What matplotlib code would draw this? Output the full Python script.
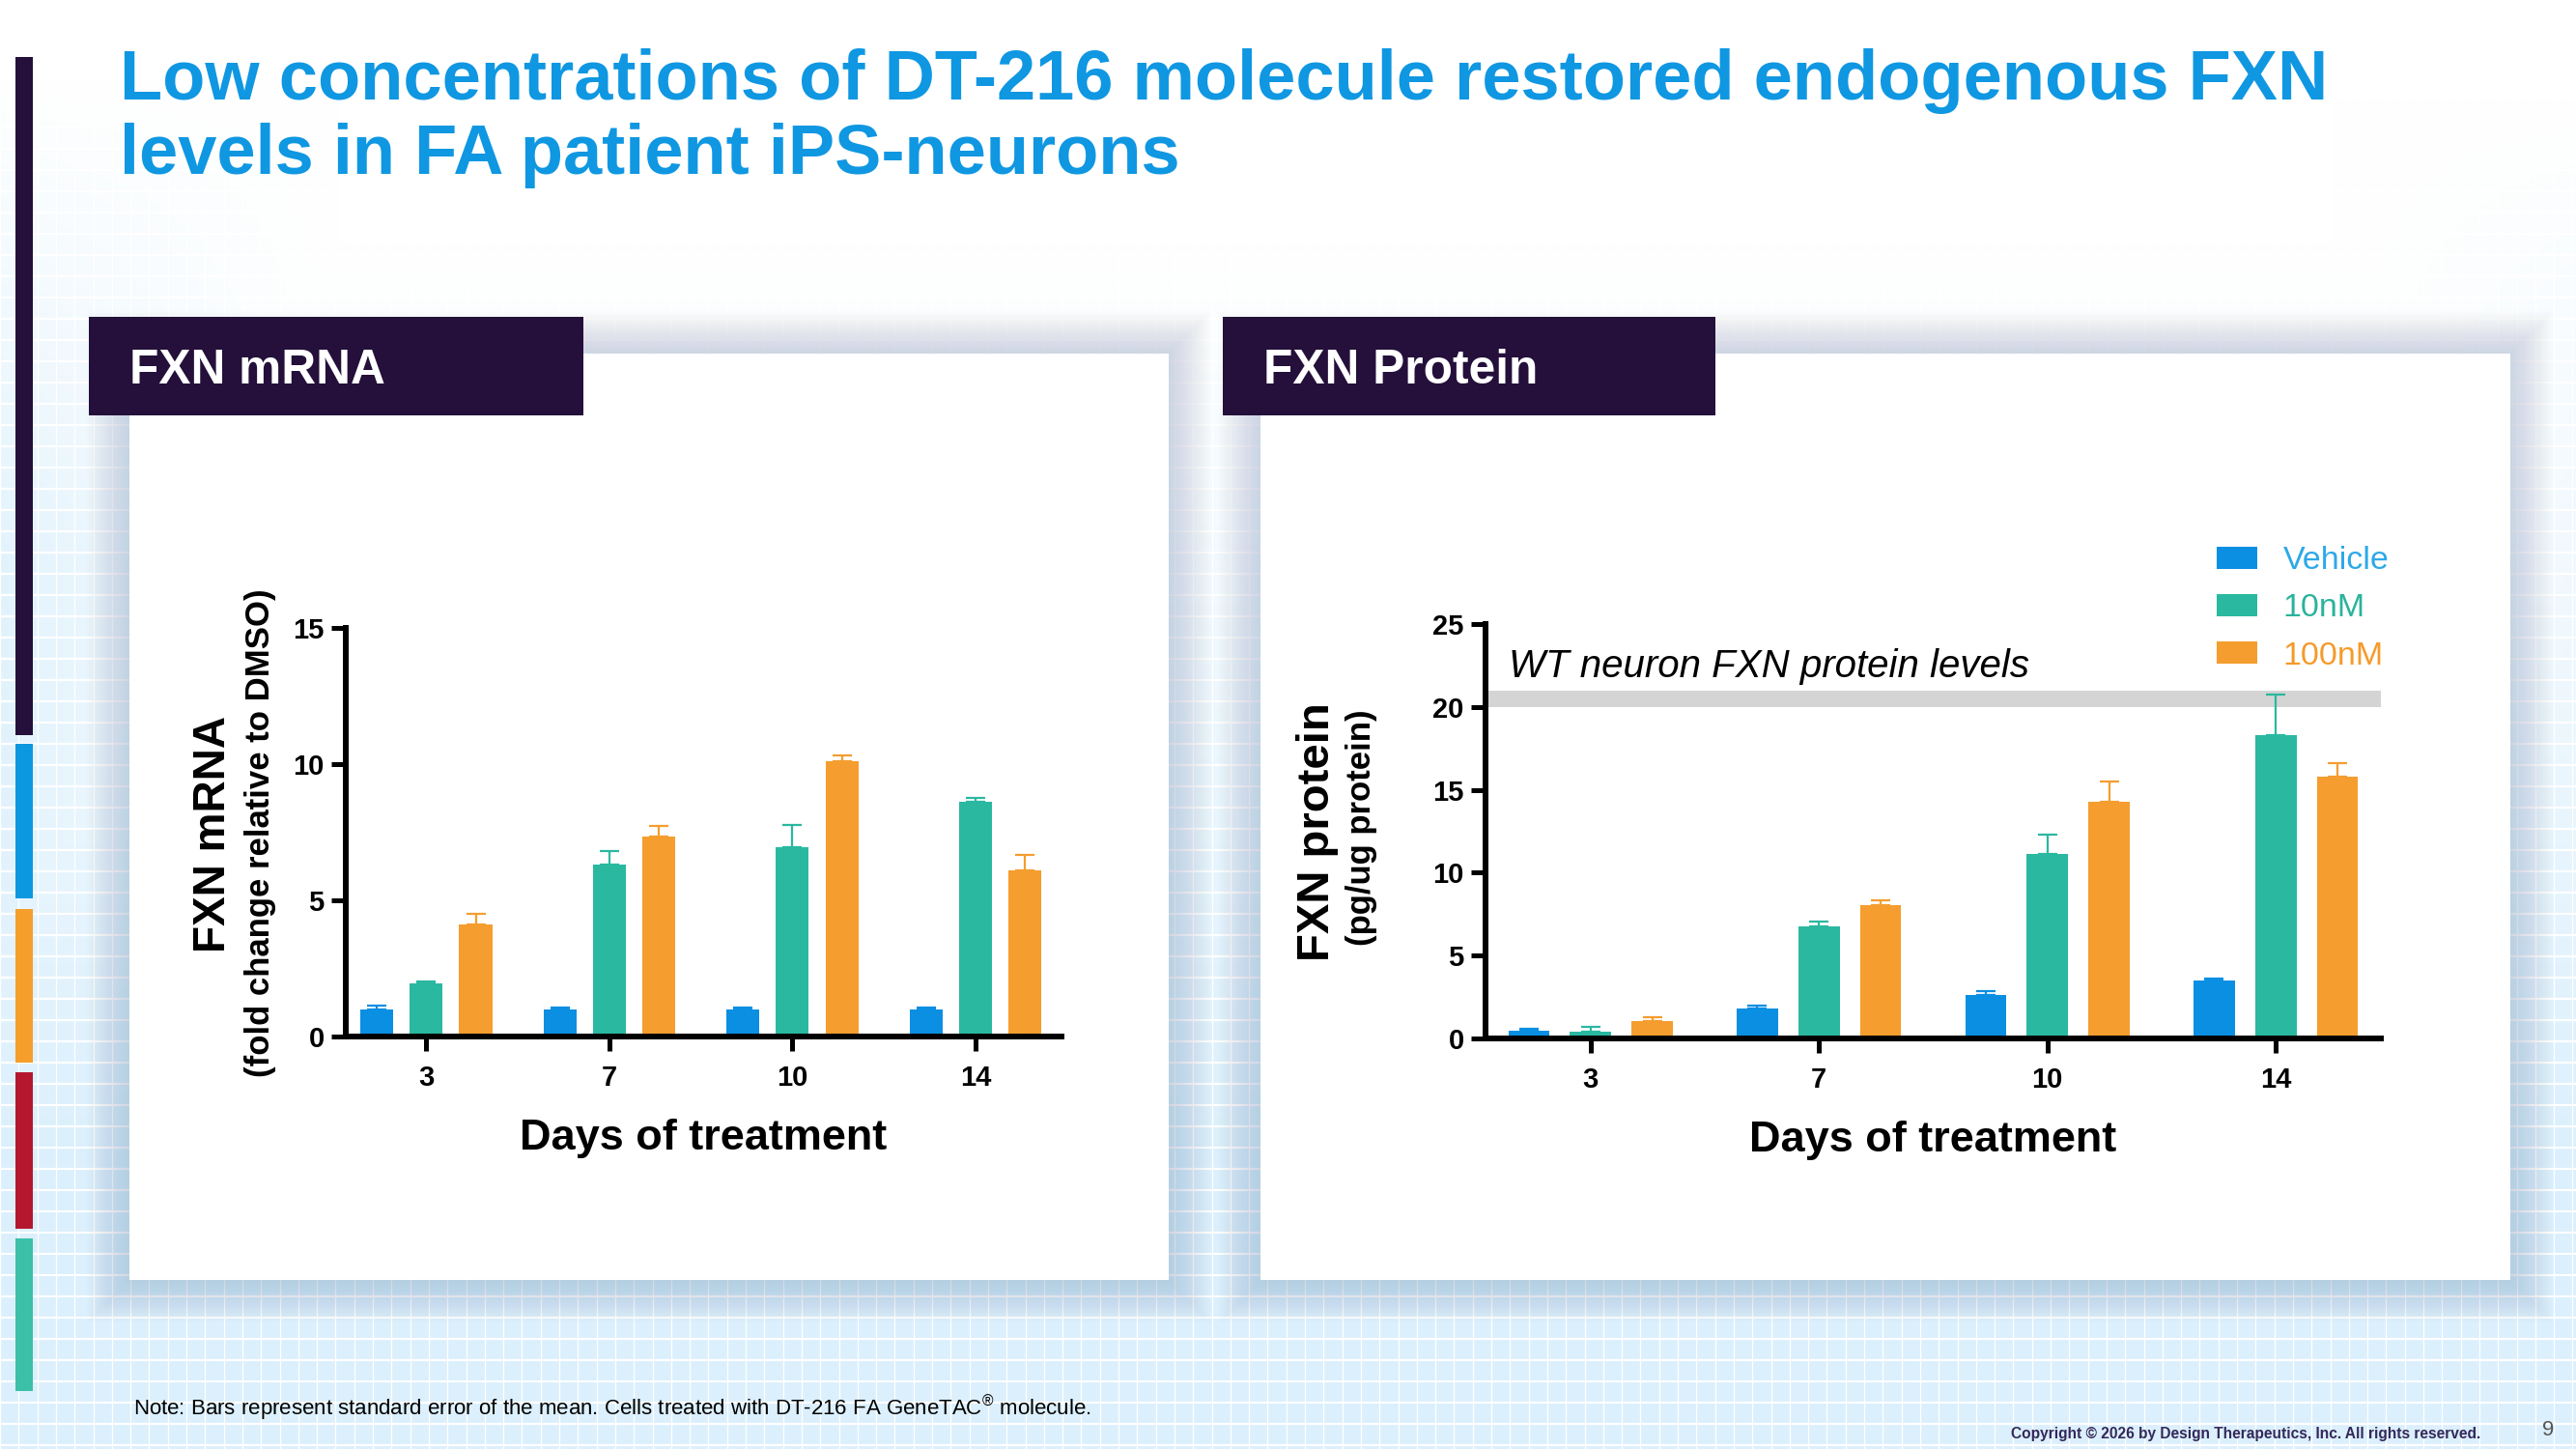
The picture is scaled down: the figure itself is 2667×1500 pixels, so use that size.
import numpy as np
import matplotlib
matplotlib.use('Agg')
import matplotlib.pyplot as plt
from matplotlib.patches import Rectangle, Patch

plt.rcParams['font.family'] = ['Liberation Sans', 'DejaVu Sans']
plt.rcParams['mathtext.fontset'] = 'custom'
plt.rcParams['mathtext.rm'] = 'Liberation Sans'

W, H = 2667, 1500

# data
days = ['3', '7', '10', '14']
groups = ['Vehicle', '10nM', '100nM']

mrna_vehicle = [1.0, 1.0, 1.0, 1.0]
mrna_10nm = [1.95, 6.3, 6.95, 8.6]
mrna_100nm = [4.1, 7.35, 10.1, 6.1]
mrna_vehicle_sem = [0.12, 0.07, 0.08, 0.07]
mrna_10nm_sem = [0.08, 0.52, 0.83, 0.16]
mrna_100nm_sem = [0.42, 0.37, 0.23, 0.57]

prot_vehicle = [0.48, 1.79, 2.65, 3.51]
prot_10nm = [0.43, 6.74, 11.11, 18.28]
prot_100nm = [1.06, 8.03, 14.29, 15.81]
prot_vehicle_sem = [0.10, 0.20, 0.20, 0.13]
prot_10nm_sem = [0.28, 0.31, 1.19, 2.48]
prot_100nm_sem = [0.25, 0.33, 1.24, 0.81]

wt_band = [20, 21]

bar_colors = ['#0b8fe3', '#2ab8a0', '#f59d2e']
label_colors = ['#2ea8e8', '#2ab39c', '#f59a2a']
purple = '#24103a'
title_blue = '#0f97e2'


def px_rect(x0, y0, x1, y1):
    # pixel box (top-left origin) -> figure fraction
    return [x0 / W, 1 - y1 / H, (x1 - x0) / W, (y1 - y0) / H]


fig = plt.figure(figsize=(W / 100, H / 100), dpi=100)

# ---- slide background ----
bg = fig.add_axes([0, 0, 1, 1])
bg.set_xlim(0, W)
bg.set_ylim(H, 0)
bg.axis('off')
yy, xx = np.mgrid[0:H:5, 0:W:5]
t = np.clip((yy - 250) / 950.0, 0, 1)
t_left = np.clip(1 - xx / 350.0, 0, 1) * np.clip((yy - 80) / 500.0, 0, 1) * 0.8
t_right = np.clip(1 - (W - xx) / 250.0, 0, 1) * np.clip((yy - 100) / 600.0, 0, 1) * 0.5
t = np.maximum(t, np.maximum(t_left, t_right))
blue = np.array([0.86, 0.94, 0.99])
img = 1 - t[..., None] * (1 - blue)
bg.imshow(img, extent=(0, W, H, 0), aspect='auto', interpolation='bilinear', zorder=0)
bg.vlines(np.arange(0, W, 19.3), 0, H, color='white', lw=0.9, zorder=1)
bg.hlines(np.arange(0, H, 22), 0, W, color='white', lw=1.6, zorder=1)

# left colour strip
strip = [(59, 761, '#24103a'), (770, 930, '#0b98e0'), (941, 1100, '#f59e2b'),
         (1110, 1272, '#b5172f'), (1282, 1440, '#3cc0a8')]
for y0, y1, c in strip:
    bg.add_patch(Rectangle((16, y0), 18, y1 - y0, fc=c, lw=0, zorder=3))

# panels with soft shadow
panels = [(134, 366, 1210, 1325), (1305, 366, 2599, 1325)]
for x0, y0, x1, y1 in panels:
    for k in range(2, 46, 2):
        bg.add_patch(Rectangle((x0 - k, y0 - k), x1 - x0 + 2 * k, y1 - y0 + 2 * k,
                               fc='#7d9db5', alpha=0.017, lw=0, zorder=2))
    bg.add_patch(Rectangle((x0, y0), x1 - x0, y1 - y0, fc='white', lw=0, zorder=3))

headers = [(92, 328, 604, 430, 'FXN mRNA', 134), (1266, 328, 1776, 430, 'FXN Protein', 1308)]
for x0, y0, x1, y1, txt, tx in headers:
    bg.add_patch(Rectangle((x0, y0), x1 - x0, y1 - y0, fc=purple, lw=0, zorder=4))
    bg.text(tx, 397, txt, color='white', fontsize=35.7, fontweight='bold',
            va='baseline', ha='left', zorder=5)

# title
fig.text(124 / W, 1 - 103 / H, 'Low concentrations of DT-216 molecule restored endogenous FXN',
         color=title_blue, fontsize=52, fontweight='bold', va='baseline', ha='left')
fig.text(124 / W, 1 - 180 / H, 'levels in FA patient iPS-neurons',
         color=title_blue, fontsize=52, fontweight='bold', va='baseline', ha='left')

# footer
fig.text(138 / W, 1 - 1465 / H,
         r'Note: Bars represent standard error of the mean. Cells treated with DT-216 FA GeneTAC$^{\mathregular{®}}$ molecule.',
         fontsize=16, color='black', va='baseline', ha='left')
fig.text(2082 / W, 1 - 1489 / H,
         'Copyright © 2026 by Design Therapeutics, Inc. All rights reserved.',
         fontsize=11.2, fontweight='bold', color='#33295a', va='baseline', ha='left')
fig.text(2638 / W, 1 - 1481 / H, '9', fontsize=16, color='#555555', va='center', ha='center')


def draw_chart(ax, means, sems, ymax, ystep, xlim):
    x = np.arange(len(days))
    for i, (v, s, c) in enumerate(zip(means, sems, bar_colors)):
        off = (i - 1) * 0.27
        ax.bar(x + off, v, width=0.18, color=c, zorder=2, label=groups[i])
        ax.errorbar(x + off, v, yerr=[np.zeros(len(v)), s], fmt='none', ecolor=c,
                    elinewidth=1.6, capsize=7, capthick=1.6, zorder=3)
    ax.set_facecolor('none')
    ax.set_xlim(*xlim)
    ax.set_ylim(0, ymax)
    ax.set_yticks(np.arange(0, ymax + 1, ystep))
    ax.set_xticks(x, days)
    for sp in ['top', 'right']:
        ax.spines[sp].set_visible(False)
    for sp in ['left', 'bottom']:
        ax.spines[sp].set_linewidth(4.3)
    ax.tick_params(direction='out', length=11, width=3.6, labelsize=21, pad=5)
    ax.tick_params(axis='x', pad=10)
    for lab in ax.get_xticklabels() + ax.get_yticklabels():
        lab.set_fontweight('bold')
    ax.set_xlabel('Days of treatment', fontsize=32.5, fontweight='bold', labelpad=20)


ax1 = fig.add_axes(px_rect(358, 650, 1099, 1073))
draw_chart(ax1, [mrna_vehicle, mrna_10nm, mrna_100nm],
           [mrna_vehicle_sem, mrna_10nm_sem, mrna_100nm_sem], 15, 5, (-0.44, 3.47))
fig.text(221 / W, 1 - 863 / H, 'FXN mRNA', rotation=90, fontsize=33, fontweight='bold',
         ha='center', va='center')
fig.text(269 / W, 1 - 862 / H, '(fold change relative to DMSO)', rotation=90, fontsize=25,
         fontweight='bold', ha='center', va='center')

ax2 = fig.add_axes(px_rect(1538, 646, 2465, 1075))
draw_chart(ax2, [prot_vehicle, prot_10nm, prot_100nm],
           [prot_vehicle_sem, prot_10nm_sem, prot_100nm_sem], 25, 5, (-0.46, 3.46))
ax2.axhspan(wt_band[0], wt_band[1], color='#d4d4d4', lw=0, zorder=0)
ax2.text(-0.36, 21.8, 'WT neuron FXN protein levels', style='italic', fontsize=29,
         va='baseline', ha='left')
fig.text(1364 / W, 1 - 861 / H, 'FXN protein', rotation=90, fontsize=34, fontweight='bold',
         ha='center', va='center')
fig.text(1410 / W, 1 - 857 / H, '(pg/ug protein)', rotation=90, fontsize=25,
         fontweight='bold', ha='center', va='center')

handles = [Patch(fc=c, lw=0) for c in bar_colors]
ax2.legend(handles, groups, loc='upper left', bbox_to_anchor=(2295 / W, 1 - 565 / H),
           bbox_transform=fig.transFigure, frameon=False, fontsize=24.5,
           handlelength=1.22, handleheight=0.66, handletextpad=0.8,
           labelspacing=0.54, borderpad=0, borderaxespad=0, labelcolor=label_colors)

fig.savefig('out.png', dpi=100)
